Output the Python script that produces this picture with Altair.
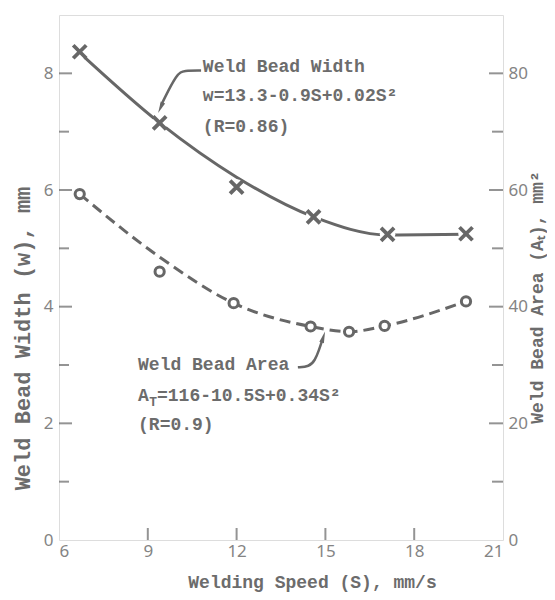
import altair as alt
import pandas as pd

# ---------------- data ----------------
speed_w = [6.7, 9.4, 12.0, 14.6, 17.1, 19.75]
width_pts = [8.37, 7.15, 6.05, 5.54, 5.24, 5.25]
width_fit = [8.35, 7.15, 6.22, 5.54, 5.23, 5.24]

speed_a = [6.7, 9.4, 11.9, 14.5, 15.8, 17.0, 19.75]
area_pts = [59.3, 46.0, 40.6, 36.6, 35.7, 36.7, 40.9]
area_fit = [59.3, 48.5, 40.6, 36.6, 35.7, 36.7, 40.9]

x_labels = [6, 9, 12, 15, 18, 21]
left_labels = [0, 2, 4, 6, 8]
right_labels = [0, 20, 40, 60, 80]
x_tick_vals = [9, 12, 15, 18]
left_major = [2, 4, 6, 8]
left_minor = [1, 3, 5, 7]
right_major = [20, 40, 60, 80]
right_minor = [10, 30, 50, 70]

ann_text = ["Weld Bead Width", "w=13.3-0.9S+0.02S²", "(R=0.86)",
            "Weld Bead Area", "A", "=116-10.5S+0.34S²", "(R=0.9)"]
ann_x = [10.86, 10.86, 10.86, 8.67, 8.67, 9.31, 8.67]
ann_y = [8.03, 7.52, 6.99, 2.91, 2.39, 2.39, 1.88]
sub_text = ["T"]
sub_x = [9.05]
sub_y = [2.30]

lead_id = ["w", "w", "w", "w", "w", "a", "a", "a", "a", "a"]
lead_x = [10.80, 10.22, 9.99, 9.51, 9.45, 14.07, 14.45, 14.65, 14.78, 14.89]
lead_y = [8.05, 8.05, 8.00, 7.52, 7.45, 2.96, 2.97, 3.08, 3.25, 3.42]
arrow_x = [9.43, 14.93]
arrow_y = [7.41, 3.48]
arrow_ang = [25, 197.5]

X_MIN, X_MAX = 6, 21
YL_MAX, YR_MAX = 9, 90

# ---------------- styles ----------------
LINE = "#676767"
TEXT = "#6c6c6c"
LABEL = "#848484"
MONO = "Liberation Mono"
SANS = "Noto Sans"
W, H = 444, 525

xscale = alt.Scale(domain=[X_MIN, X_MAX], nice=False, zero=False)
ylscale = alt.Scale(domain=[0, YL_MAX], nice=False)
yrscale = alt.Scale(domain=[0, YR_MAX], nice=False)

xaxis = alt.Axis(values=x_labels, ticks=False, domain=False, grid=False,
                 labelFont=SANS, labelFontSize=17, labelColor=LABEL,
                 labelPadding=3, labelOverlap=False,
                 title="Welding Speed (S), mm/s", titleFont=MONO,
                 titleFontSize=18, titleFontWeight="bold", titleColor=TEXT,
                 titleX=253, titleY=42, titleAlign="center",
                 titleBaseline="middle", titleAngle=0)
ylaxis = alt.Axis(values=left_labels, ticks=False, domain=False, grid=False,
                  labelFont=SANS, labelFontSize=17, labelColor=LABEL,
                  labelPadding=6, labelOverlap=False,
                  title="Weld Bead Width (w), mm", titleFont=MONO,
                  titleFontSize=22, titleFontWeight="bold", titleColor=TEXT,
                  titleX=-37, titleY=323, titleAngle=270, titleAlign="center",
                  titleBaseline="middle")
yraxis = alt.Axis(values=right_labels, ticks=False, domain=False, grid=False,
                  orient="right",
                  labelFont=SANS, labelFontSize=17, labelColor=LABEL,
                  labelPadding=5, labelOverlap=False,
                  title="Weld Bead Area (Aₜ), mm²", titleFont=MONO,
                  titleFontSize=18, titleFontWeight="bold", titleColor=TEXT,
                  titleX=34, titleY=282, titleAngle=270, titleAlign="center",
                  titleBaseline="middle")


def X(f="x"):
    return alt.X(f"{f}:Q", scale=xscale, axis=xaxis)


def YL(f="y"):
    return alt.Y(f"{f}:Q", scale=ylscale, axis=ylaxis)


def YR(f="y"):
    return alt.Y(f"{f}:Q", scale=yrscale, axis=yraxis)


df_w = pd.DataFrame({"x": speed_w, "y": width_pts})
df_wf = pd.DataFrame({"x": speed_w, "y": width_fit})
df_a = pd.DataFrame({"x": speed_a, "y": area_pts})
df_af = pd.DataFrame({"x": speed_a, "y": area_fit})
df_ann = pd.DataFrame({"x": ann_x, "y": ann_y, "t": ann_text})
df_sub = pd.DataFrame({"x": sub_x, "y": sub_y, "t": sub_text})
df_lead = pd.DataFrame({"x": lead_x, "y": lead_y, "id": lead_id,
                        "i": list(range(len(lead_x)))})
df_arrow = pd.DataFrame({"x": arrow_x, "y": arrow_y, "ang": arrow_ang})
df_lmaj = pd.DataFrame({"x": [X_MIN] * len(left_major), "y": left_major})
df_lmin = pd.DataFrame({"x": [X_MIN] * len(left_minor), "y": left_minor})
df_rmaj = pd.DataFrame({"x": [X_MAX] * len(right_major), "y": right_major})
df_rmin = pd.DataFrame({"x": [X_MAX] * len(right_minor), "y": right_minor})
df_xt = pd.DataFrame({"x": x_tick_vals, "y": [0] * len(x_tick_vals)})

CROSS = "M-1,-1L1,1M-1,1L1,-1"
ARROW = "M0,1L-0.42,-1L0.42,-1Z"

left_layers = [
    alt.Chart(df_wf).mark_line(interpolate="monotone", color=LINE,
                               strokeWidth=3).encode(x=X(), y=YL()),
    alt.Chart(df_w).mark_point(shape="circle", filled=True, color="white",
                               opacity=1, size=240).encode(x=X(), y=YL()),
    alt.Chart(df_w).mark_point(shape=CROSS, filled=False, color=LINE,
                               opacity=1, size=170,
                               strokeWidth=3.8).encode(x=X(), y=YL()),
    alt.Chart(df_ann).mark_text(align="left", baseline="alphabetic",
                                font=MONO, fontSize=18, fontWeight="bold",
                                color=TEXT).encode(x=X(), y=YL(), text="t:N"),
    alt.Chart(df_sub).mark_text(align="left", baseline="alphabetic",
                                font=MONO, fontSize=13, fontWeight="bold",
                                color=TEXT).encode(x=X(), y=YL(), text="t:N"),
    alt.Chart(df_lead).mark_line(interpolate="basis", color=LINE,
                                 strokeWidth=2.5).encode(
        x=X(), y=YL(), detail="id:N", order="i:Q"),
    alt.Chart(df_arrow).mark_point(shape=ARROW, filled=True, color=LINE,
                                   opacity=1, size=130).encode(
        x=X(), y=YL(), angle=alt.Angle("ang:Q", scale=None)),
    alt.Chart(df_lmaj).mark_tick(orient="horizontal", size=13, thickness=2,
                                 xOffset=6.5, color=LINE).encode(x=X(), y=YL()),
    alt.Chart(df_lmin).mark_tick(orient="horizontal", size=10, thickness=2,
                                 xOffset=5, color=LINE).encode(x=X(), y=YL()),
    alt.Chart(df_xt).mark_tick(orient="vertical", size=12, thickness=2,
                               yOffset=-6, color=LINE).encode(x=X(), y=YL()),
]

right_layers = [
    alt.Chart(df_af).mark_line(interpolate="monotone", color=LINE,
                               strokeWidth=3, strokeDash=[11, 6]).encode(
        x=X(), y=YR()),
    alt.Chart(df_a).mark_point(shape="circle", filled=True, fill="white",
                               stroke=LINE, opacity=1, fillOpacity=1,
                               size=85, strokeWidth=3).encode(x=X(), y=YR()),
    alt.Chart(df_rmaj).mark_tick(orient="horizontal", size=14, thickness=2,
                                 xOffset=-7, color=LINE).encode(x=X(), y=YR()),
    alt.Chart(df_rmin).mark_tick(orient="horizontal", size=11, thickness=2,
                                 xOffset=-5.5, color=LINE).encode(x=X(), y=YR()),
]

chart = alt.layer(alt.layer(*left_layers), alt.layer(*right_layers)).resolve_scale(
    y="independent"
).properties(
    width=W, height=H,
    autosize=alt.AutoSizeParams(type="none"),
    padding={"left": 51, "top": 7, "right": 44, "bottom": 52},
).configure_view(
    stroke=LINE, strokeWidth=2.5
).configure(background="white")

chart.save("out.html", embed_options={"renderer": "svg", "actions": False})
